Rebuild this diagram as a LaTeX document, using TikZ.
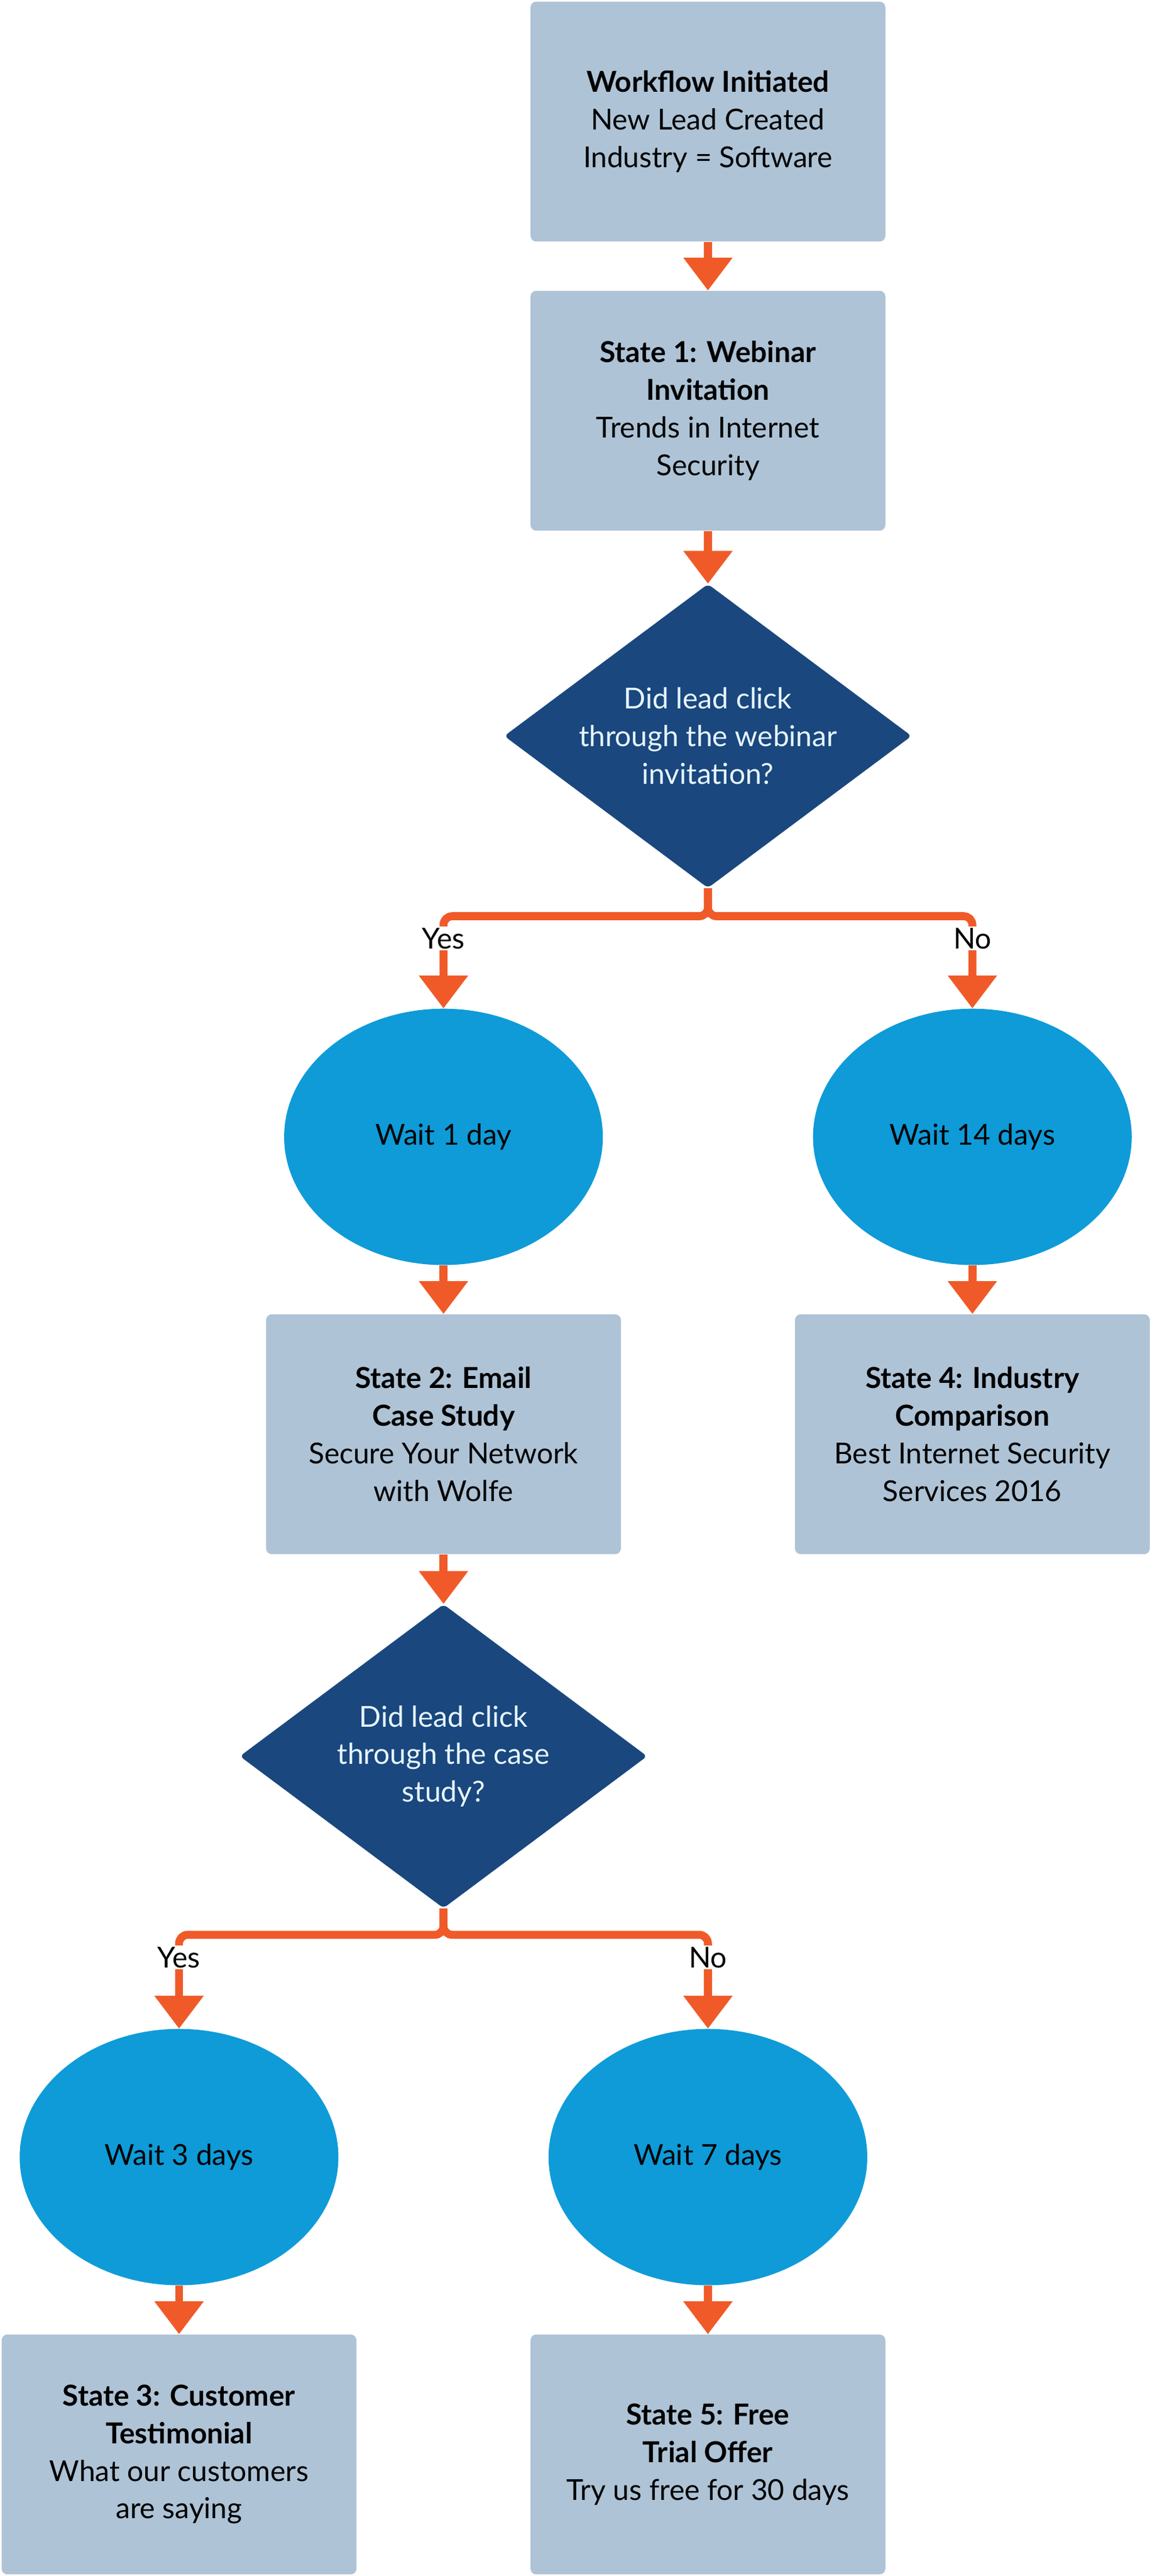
\documentclass[tikz,border=0pt]{standalone}
\usepackage{fontspec}
\setmainfont{Lato}
\usetikzlibrary{positioning,calc,arrows.meta,shapes.geometric}
\definecolor{boxblue}{HTML}{AEC3D6}
\definecolor{darkblue}{HTML}{19477E}
\definecolor{skyblue}{HTML}{0E9BD8}
\definecolor{arroworange}{HTML}{F05A28}
\begin{document}
\begin{tikzpicture}[
    x=0.04cm, y=-0.04cm,
    font=\fontsize{20}{26}\selectfont,
    state/.style={rectangle, fill=boxblue, rounded corners=4pt, minimum width=8.64cm, minimum height=5.84cm, align=center},
    wait/.style={ellipse, fill=skyblue, minimum width=7.76cm, minimum height=6.24cm},
    decision/.style={diamond, fill=darkblue, rounded corners=3pt, minimum width=9.92cm, minimum height=7.4cm, inner sep=0pt},
    dtext/.style={text=white!90!skyblue, align=center},
    flow/.style={draw=arroworange, line width=5.5pt, -{Triangle[width=1.15cm,length=0.8cm]}, rounded corners=6pt},
    branch/.style={fill=white, inner sep=1pt}
]
\useasboundingbox (0,0) rectangle (701,1568);

% States
\node[state] (init) at (431,74) {\textbf{Workflow Initiated}\\New Lead Created\\Industry = Software};
\node[state] (webinar) at (431,250) {\textbf{State 1: Webinar}\\\textbf{Invitation}\\Trends in Internet\\Security};
\node[state] (casestudy) at (270,873) {\textbf{State 2: Email}\\\textbf{Case Study}\\Secure Your Network\\with Wolfe};
\node[state] (industry) at (592,873) {\textbf{State 4: Industry}\\\textbf{Comparison}\\Best Internet Security\\Services 2016};
\node[state] (testimonial) at (109,1494) {\textbf{State 3: Customer}\\\textbf{Testimonial}\\What our customers\\are saying};
\node[state] (trial) at (431,1494) {\textbf{State 5: Free}\\\textbf{Trial Offer}\\Try us free for 30 days};

% Decisions
\node[decision] (click1) at (431,448) {};
\node[dtext] (click1text) at (click1) {Did lead click\\through the webinar\\invitation?};
\node[decision] (click2) at (270,1069) {};
\node[dtext] (click2text) at (click2) {Did lead click\\through the case\\study?};

% Waits
\node[wait] (wait1) at (270,692) {Wait 1 day};
\node[wait] (wait14) at (592,692) {Wait 14 days};
\node[wait] (wait3) at (109,1313) {Wait 3 days};
\node[wait] (wait7) at (431,1313) {Wait 7 days};

% Transitions
\draw[flow] (init) -- (webinar);
\draw[flow] (webinar) -- (click1);
\draw[flow] (click1.south) -- ++(0,17) -| node[branch, pos=0.62] {Yes} (wait1.north);
\draw[flow] (click1.south) -- ++(0,17) -| node[branch, pos=0.62] {No} (wait14.north);
\draw[flow] (wait1) -- (casestudy);
\draw[flow] (wait14) -- (industry);
\draw[flow] (casestudy) -- (click2);
\draw[flow] (click2.south) -- ++(0,16) -| node[branch, pos=0.62] {Yes} (wait3.north);
\draw[flow] (click2.south) -- ++(0,16) -| node[branch, pos=0.62] {No} (wait7.north);
\draw[flow] (wait3) -- (testimonial);
\draw[flow] (wait7) -- (trial);

\end{tikzpicture}
\end{document}
